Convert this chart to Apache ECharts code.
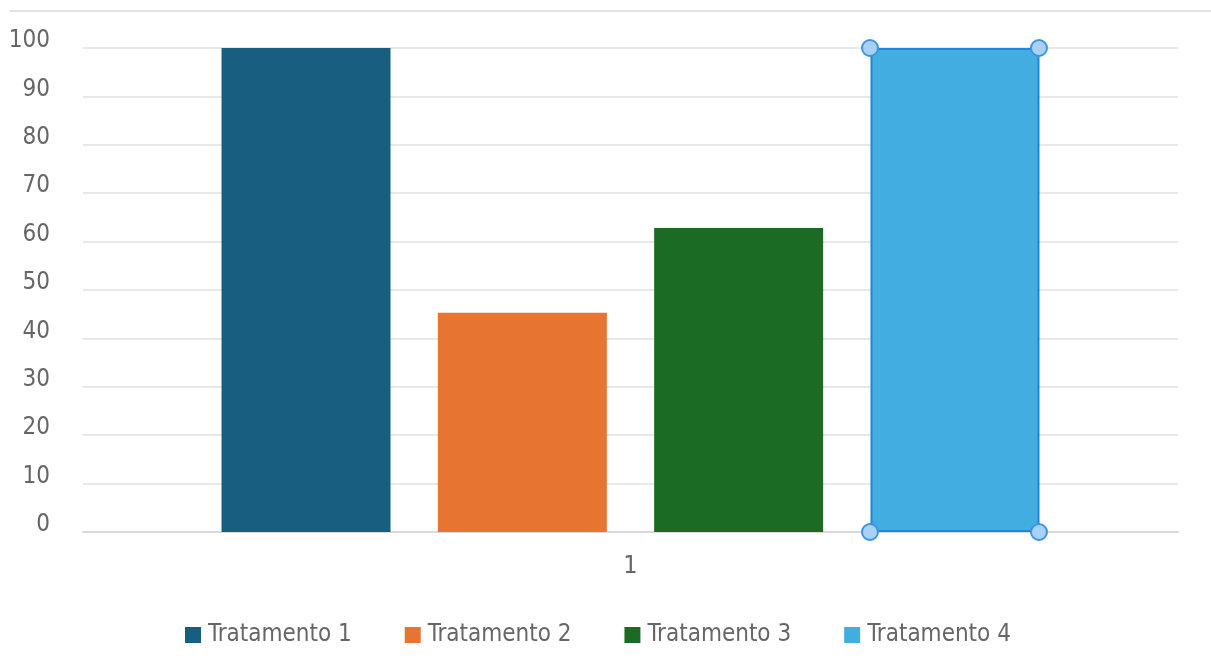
<!DOCTYPE html>
<html>
<head>
<meta charset="utf-8">
<script src="https://cdn.jsdelivr.net/npm/echarts@6/dist/echarts.min.js"></script>
<style>
  html, body { margin: 0; padding: 0; background: #fff; }
  #main { width: 1211px; height: 668px; }
</style>
</head>
<body>
<div id="main"></div>
<script>
// dados
var categorias = ['1'];
var tratamentos = ['Tratamento 1', 'Tratamento 2', 'Tratamento 3', 'Tratamento 4'];
var valores = [100, 45.3, 62.8, 100];
var cores = ['#175e80', '#e87431', '#1b6b25', '#42ade0'];
var yTicks = [0, 10, 20, 30, 40, 50, 60, 70, 80, 90, 100];

var fonte = '"Liberation Sans Narrow", "DejaVu Sans Condensed", "Liberation Sans", sans-serif';
var cinza = '#666666';

var myChart = echarts.init(document.getElementById('main'));

var series = tratamentos.map(function (nome, i) {
    var s = {
        name: nome,
        type: 'bar',
        data: [valores[i]],
        barWidth: 169,
        barGap: '28%',
        itemStyle: { color: cores[i] },
        animation: false
    };
    // ultima barra aparece "selecionada" com alcas nos cantos
    if (i == tratamentos.length - 1) {
        s.itemStyle.borderColor = '#1f86d8';
        s.itemStyle.borderWidth = 2;
        var alca = function (v, dx) {
            return { coord: [0, v], symbolOffset: [dx, 0] };
        };
        s.markPoint = {
            symbol: 'circle',
            symbolSize: 16,
            label: { show: false },
            itemStyle: { color: '#a9d1f7', borderColor: '#3f94e0', borderWidth: 2 },
            data: [alca(yTicks[yTicks.length - 1], -85), alca(yTicks[yTicks.length - 1], 84),
                   alca(yTicks[0], -85), alca(yTicks[0], 84)]
        };
    }
    return s;
});

var option = {
    backgroundColor: '#fff',
    animation: false,
    grid: { left: 83, right: 33, top: 48, bottom: 136 },
    legend: {
        data: tratamentos,
        left: 185,
        top: 623,
        padding: 0,
        icon: 'rect',
        itemWidth: 16,
        itemHeight: 16,
        itemGap: 53,
        itemStyle: { borderWidth: 0 },
        textStyle: { fontFamily: fonte, fontSize: 24, color: cinza, padding: [0, 0, 0, 2] }
    },
    graphic: [{
        type: 'line',
        shape: { x1: 10, y1: 11, x2: 1211, y2: 11 },
        style: { stroke: '#e2e2e2', lineWidth: 2 }
    }],
    xAxis: {
        type: 'category',
        data: categorias,
        axisLine: { show: true, lineStyle: { color: '#d9d9d9', width: 2 } },
        axisTick: { show: false },
        axisLabel: { fontFamily: fonte, fontSize: 25, color: cinza, margin: 22 }
    },
    yAxis: {
        type: 'value',
        min: yTicks[0],
        max: yTicks[yTicks.length - 1],
        interval: 10,
        axisLine: { show: false },
        axisTick: { show: false },
        splitLine: { lineStyle: { color: '#e8e8e8', width: 2 } },
        axisLabel: {
            fontFamily: fonte, fontSize: 24, color: cinza, margin: 33,
            verticalAlign: 'bottom', lineHeight: 14
        }
    },
    series: series
};
myChart.setOption(option);
</script>
</body>
</html>
